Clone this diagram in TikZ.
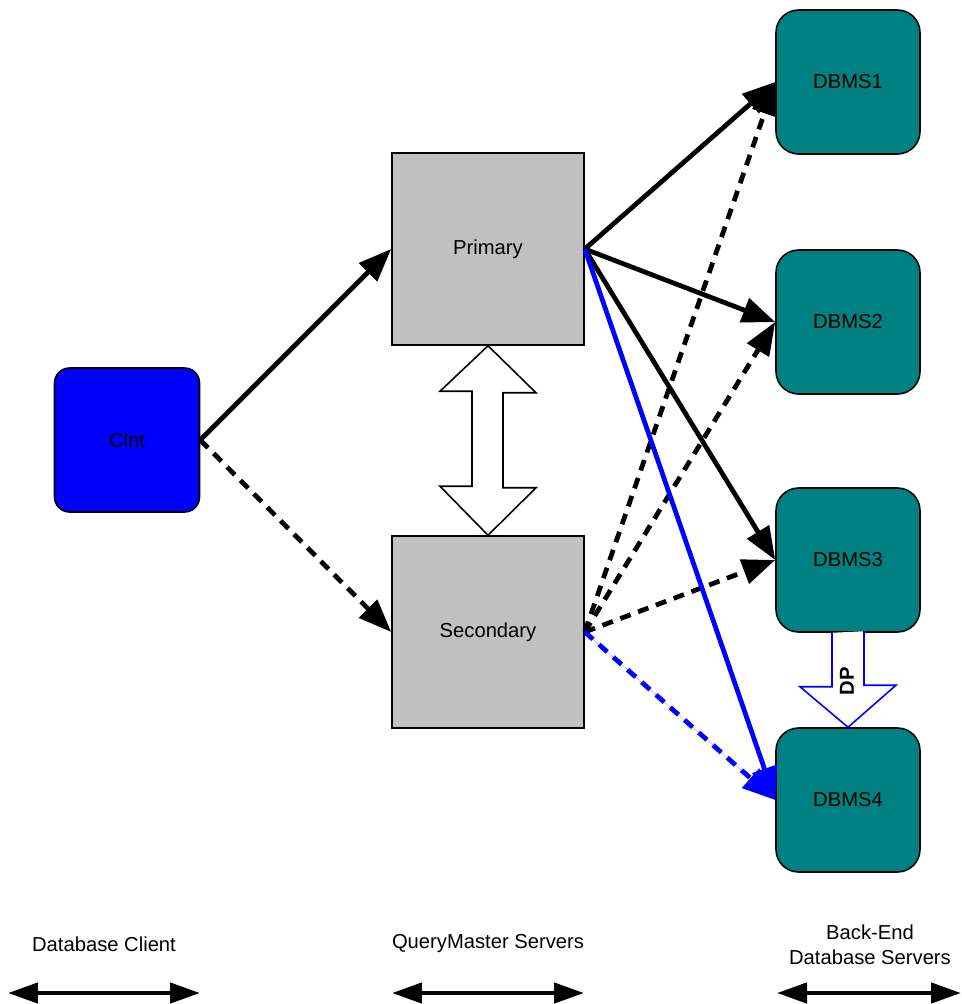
\documentclass[tikz,border=0pt]{standalone}
\usepackage{fontspec}
\setmainfont{Liberation Sans}
\usepackage{tikz}
\usetikzlibrary{arrows.meta, calc}
\usepackage{xcolor}

\definecolor{clntblue}{RGB}{0,0,255}
\definecolor{qmgray}{RGB}{192,192,192}
\definecolor{dbteal}{RGB}{0,128,128}

\begin{document}
\begin{tikzpicture}[
    x=0.02cm, y=-0.02cm,
    client/.style={draw=black, rectangle, rounded corners=0.3cm,
                minimum width=2.9cm, minimum height=2.88cm, align=center,
                fill=clntblue, line width=0.9pt, inner sep=0pt,
                font=\fontsize{11.5}{13}\selectfont},
    qmaster/.style={draw=black, rectangle,
                minimum width=3.84cm, minimum height=3.84cm, align=center,
                fill=qmgray, line width=0.9pt, inner sep=0pt,
                font=\fontsize{11.5}{13}\selectfont},
    backend/.style={draw=black, rectangle, rounded corners=0.45cm,
                minimum width=2.88cm, minimum height=2.88cm, align=center,
                fill=dbteal, line width=0.9pt, inner sep=0pt,
                font=\fontsize{11.5}{13}\selectfont},
    caption/.style={align=center, font=\fontsize{11.5}{14}\selectfont},
    link/.style={-{Triangle[length=0.66cm, width=0.5cm]}, line width=0.095cm},
    backup/.style={link, dash pattern=on 0.22cm off 0.16cm},
    hollow/.style={draw, fill=white, line width=0.9pt, line join=miter},
    tierarrow/.style={{Triangle[length=0.6cm, width=0.4cm]}-{Triangle[length=0.6cm, width=0.4cm]},
                line width=0.09cm}
]
\useasboundingbox (0,0) rectangle (961,1004);

%% ---- CLIENT (left) ----
\node [client]  (clnt)      at (127, 440) {Clnt};

%% ---- QUERYMASTER PAIR (middle) ----
\node [qmaster] (primary)   at (488, 249) {Primary};
\node [qmaster] (secondary) at (488, 632) {Secondary};

%% ---- BACK-END DATABASES (right) ----
\node [backend] (dbms1)     at (848,  82) {DBMS1};
\node [backend] (dbms2)     at (848, 322) {DBMS2};
\node [backend] (dbms3)     at (848, 560) {DBMS3};
\node [backend] (dbms4)     at (848, 800) {DBMS4};

%% ---- client requests ----
\draw [link]   (clnt.east) -- (primary.west);
\draw [backup] (clnt.east) -- (secondary.west);

%% ---- secondary fan-out (dashed, drawn first) ----
\draw [backup] (secondary.east) -- (dbms1.west);
\draw [backup] (secondary.east) -- (dbms2.west);
\draw [backup] (secondary.east) -- (dbms3.west);
\draw [backup, draw=clntblue, fill=clntblue] (secondary.east) -- (dbms4.west);

%% ---- primary fan-out ----
\draw [link] (primary.east) -- (dbms1.west);
\draw [link] (primary.east) -- (dbms2.west);
\draw [link] (primary.east) -- (dbms3.west);
\draw [link, draw=clntblue, fill=clntblue] (primary.east) -- (dbms4.west);

%% ---- sync between primary and secondary (hollow double arrow) ----
\draw [hollow] (primary.south) -- ++(48,47) -- ++(-33,0) -- ++(0,95) -- ++(33,0)
    -- (secondary.north) -- ++(-48,-49) -- ++(32,0) -- ++(0,-95) -- ++(-32,0) -- cycle;

%% ---- DP replication DBMS3 -> DBMS4 ----
\draw [hollow, draw=clntblue] ($(dbms3.south)+(-16,0)$) -- ++(0,54) -- ++(-32,0)
    -- (dbms4.north) -- ++(48,-42) -- ++(-32,0) -- ++(0,-54);
\node [rotate=90, font=\fontsize{11.5}{13}\selectfont\bfseries] (dp) at (847, 681) {DP};

%% ---- tier captions ----
\node [caption] (tierclient) at (104, 944) {Database Client};
\node [caption] (tierqm)     at (488, 944) {QueryMaster Servers};
\node [caption] (tierdb)     at (870, 945) {Back-End\\Database Servers};

\coordinate (clientL) at (8, 993);   \coordinate (clientR) at (200, 993);
\coordinate (qmL)     at (392, 993); \coordinate (qmR)     at (584, 993);
\coordinate (dbL)     at (777, 993); \coordinate (dbR)     at (961, 993);

\draw [tierarrow] (clientL) -- (clientR);
\draw [tierarrow] (qmL)     -- (qmR);
\draw [tierarrow] (dbL)     -- (dbR);

\end{tikzpicture}
\end{document}
